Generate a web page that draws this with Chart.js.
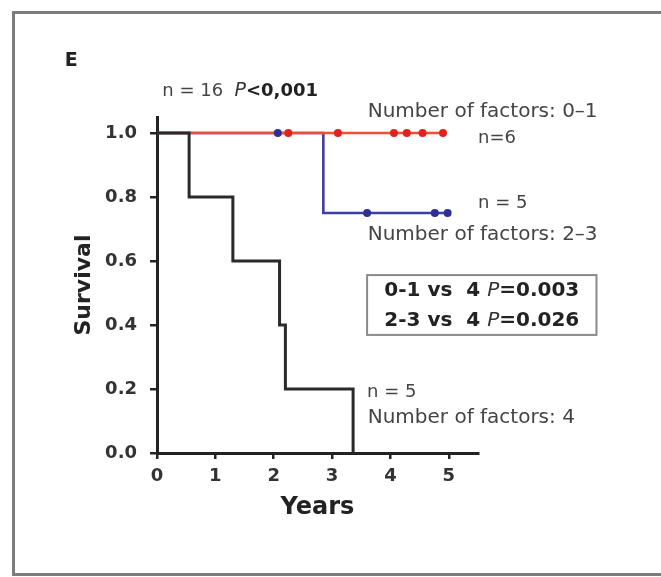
<!DOCTYPE html>
<html>
<head>
<meta charset="utf-8">
<script src="https://cdn.jsdelivr.net/npm/chart.js@4/dist/chart.umd.min.js"></script>
<style>
  html, body { margin: 0; padding: 0; background: #fff; }
  #wrap { position: relative; width: 661px; height: 577px; overflow: hidden; }
  #frame { position: absolute; left: 12px; top: 11px; width: 646px; height: 559px;
           border: 3px solid #7c7c7c; border-right: 1px solid #cfcfcf; pointer-events: none; }
  canvas { position: absolute; left: 0; top: 0; }
</style>
</head>
<body>
<div id="wrap">
  <canvas id="km" width="661" height="577"></canvas>
  <div id="frame"></div>
</div>
<script>
// Kaplan-Meier steps (years, survival after the event)
var grp4X = [0, 0.55, 1.3, 2.1, 2.2, 3.36];
var grp4Y = [1, 0.8, 0.6, 0.4, 0.2, 0];
var grp01X = [0, 4.9];
var grp01Y = [1, 1];
var grp23X = [0, 2.85, 4.98];
var grp23Y = [1, 0.75, 0.75];
// censored patients
var cens01X = [2.25, 3.1, 4.06, 4.28, 4.55, 4.9];
var cens01Y = [1, 1, 1, 1, 1, 1];
var cens23X = [2.07, 3.6, 4.76, 4.98];
var cens23Y = [1, 0.75, 0.75, 0.75];

var xTicks = [0, 1, 2, 3, 4, 5];
var yTicks = [0, 0.2, 0.4, 0.6, 0.8, 1.0];

var FONT = '"DejaVu Sans", "Liberation Sans", Arial, sans-serif';

// text notes placed in data units: [x, y, parts]
var notes = [
  [-1.58, 1.225, [['E', 'bold 19px', '#222']]],
  [0.09, 1.13, [['n = 16  ', '18px', '#444'], ['P', 'italic 19px', '#333'], ['<0,001', 'bold 18px', '#222']]],
  [3.61, 1.066, [['Number of factors: 0\u20131', '20px', '#444']]],
  [5.5, 0.984, [['n=6', '18px', '#444']]],
  [5.5, 0.781, [['n = 5', '18px', '#444']]],
  [3.61, 0.681, [['Number of factors: 2\u20133', '20px', '#444']]],
  [3.6, 0.19, [['n = 5', '18px', '#444']]],
  [3.61, 0.109, [['Number of factors: 4', '20px', '#444']]]
];
var boxLines = [
  [['0-1 vs  4 ', 'bold 20px', '#222'], ['P', 'italic 20px', '#333'], ['=0.003', 'bold 20px', '#222']],
  [['2-3 vs  4 ', 'bold 20px', '#222'], ['P', 'italic 20px', '#333'], ['=0.026', 'bold 20px', '#222']]
];
var boxX = [3.6, 7.53];
var boxY = [0.556, 0.369];

function pts(xs, ys) {
  return xs.map(function (x, i) { return { x: x, y: ys[i] }; });
}

function drawParts(ctx, parts, x, y, align) {
  var w = 0;
  parts.forEach(function (p) { ctx.font = p[1] + ' ' + FONT; w += ctx.measureText(p[0]).width; });
  var cx = align === 'center' ? x - w / 2 : x;
  parts.forEach(function (p) {
    ctx.font = p[1] + ' ' + FONT;
    ctx.fillStyle = p[2];
    ctx.fillText(p[0], cx, y);
    cx += ctx.measureText(p[0]).width;
  });
}

var notesPlugin = {
  id: 'notes',
  afterDraw: function (chart) {
    var ctx = chart.ctx, xs = chart.scales.x, ys = chart.scales.y;
    ctx.save();
    ctx.textBaseline = 'middle';
    ctx.textAlign = 'left';
    notes.forEach(function (n) {
      drawParts(ctx, n[2], xs.getPixelForValue(n[0]), ys.getPixelForValue(n[1]), 'left');
    });
    var l = xs.getPixelForValue(boxX[0]), r = xs.getPixelForValue(boxX[1]);
    var t = ys.getPixelForValue(boxY[0]), b = ys.getPixelForValue(boxY[1]);
    ctx.strokeStyle = '#8a8a8a';
    ctx.lineWidth = 2;
    ctx.strokeRect(l, t, r - l, b - t);
    var h = (b - t) / boxLines.length;
    boxLines.forEach(function (line, i) {
      drawParts(ctx, line, (l + r) / 2, t + h * (i + 0.5) + 1, 'center');
    });
    ctx.restore();
  }
};

var axisColor = '#222';

new Chart(document.getElementById('km'), {
  type: 'scatter',
  plugins: [notesPlugin],
  data: {
    datasets: [
      { label: '4', data: pts(grp4X, grp4Y), showLine: true, stepped: true,
        borderColor: '#2a2a2a', borderWidth: 3, pointRadius: 0, clip: false },
      { label: 'c01', data: pts(cens01X, cens01Y), showLine: false,
        backgroundColor: '#e3221c', borderWidth: 0, pointRadius: 4, clip: false },
      { label: 'c23', data: pts(cens23X, cens23Y), showLine: false,
        backgroundColor: '#2f2f95', borderWidth: 0, pointRadius: 4, clip: false },
      { label: '0-1', data: pts(grp01X, grp01Y), showLine: true, stepped: true,
        borderColor: '#ef4f33', borderWidth: 2.6, pointRadius: 0, clip: false },
      { label: '2-3', data: pts(grp23X, grp23Y), showLine: true, stepped: true,
        borderColor: '#3f3fa3', borderWidth: 2.6, pointRadius: 0, clip: false }
    ]
  },
  options: {
    responsive: false,
    animation: false,
    layout: { padding: { top: 117, right: 183, left: 0, bottom: 0 } },
    plugins: { legend: { display: false }, tooltip: { enabled: false } },
    scales: {
      x: {
        type: 'linear', min: 0, max: 5.5,
        afterFit: function (s) { s.height = 124; },
        afterBuildTicks: function (s) { s.ticks = xTicks.map(function (v) { return { value: v }; }); },
        border: { color: axisColor, width: 3 },
        grid: { drawOnChartArea: false, tickLength: 6, color: axisColor, lineWidth: 2.5 },
        ticks: { padding: 7, color: '#333', font: { family: FONT, size: 18, weight: 'bold' },
                 callback: function (v) { return String(v); } },
        title: { display: true, text: 'Years', color: '#222',
                 font: { family: FONT, size: 24, weight: 'bold' }, padding: { top: 0, bottom: 55 } }
      },
      y: {
        type: 'linear', min: 0, max: 1.05,
        afterFit: function (s) { s.width = 157; },
        afterBuildTicks: function (s) { s.ticks = yTicks.map(function (v) { return { value: v }; }); },
        border: { color: axisColor, width: 3 },
        grid: { drawOnChartArea: false, tickLength: 7, color: axisColor, lineWidth: 2.5 },
        ticks: { padding: 13, color: '#333', font: { family: FONT, size: 18, weight: 'bold' },
                 callback: function (v) { return Number(v).toFixed(1); } },
        title: { display: true, text: 'Survival', color: '#222',
                 font: { family: FONT, size: 22, weight: 'bold' }, padding: { top: 71, bottom: 0 } }
      }
    }
  }
});
</script>
</body>
</html>
